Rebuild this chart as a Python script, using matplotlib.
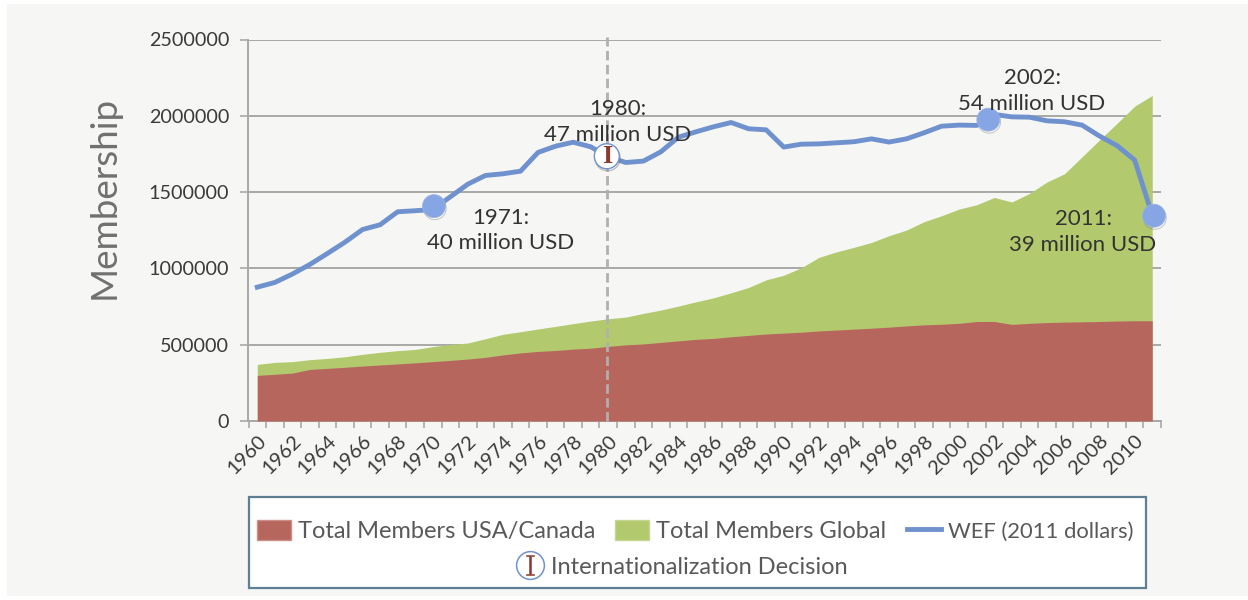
import matplotlib
matplotlib.use("Agg")
import matplotlib.pyplot as plt
from matplotlib.patches import Patch, Rectangle
from matplotlib.lines import Line2D
from matplotlib.legend_handler import HandlerTuple
import matplotlib.patheffects as pe

plt.rcParams['font.family'] = ['Lato', 'DejaVu Sans']
plt.rcParams['mathtext.fontset'] = 'dejavuserif'

years = list(range(1960, 2012))
usa_canada = [299, 306, 314, 338, 345, 352, 360, 367, 374, 381, 389, 397, 406, 417, 433, 446, 456, 462, 471, 477,
              489, 499, 505, 515, 525, 535, 541, 552, 561, 570, 576, 582, 590, 596, 602, 608, 615, 623, 630, 634,
              640, 652, 652, 633, 640, 645, 648, 650, 652, 655, 657, 657]
global_members = [371, 384, 389, 402, 410, 421, 437, 450, 461, 469, 487, 502, 511, 539, 568, 585, 603, 620, 638, 655,
                  670, 681, 705, 727, 753, 781, 807, 840, 875, 925, 955, 1004, 1072, 1108, 1138, 1170, 1214, 1251,
                  1306, 1345, 1389, 1417, 1465, 1435, 1491, 1566, 1620, 1731, 1842, 1951, 2063, 2133]
wef = [877, 908, 963, 1026, 1098, 1172, 1255, 1286, 1371, 1378, 1386, 1469, 1552, 1609, 1620, 1637, 1760, 1801, 1827,
       1797, 1731, 1694, 1703, 1764, 1860, 1895, 1928, 1956, 1915, 1908, 1795, 1814, 1816, 1823, 1830, 1849, 1828,
       1849, 1889, 1932, 1939, 1937, 2009, 1993, 1991, 1967, 1961, 1939, 1867, 1804, 1710, 1350]
y_ticks = [0, 500000, 1000000, 1500000, 2000000, 2500000]
x_tick_labels = [str(y) for y in range(1960, 2012, 2)]

callout_x = [10.07, 41.66, 51.1]
callout_y = [1408000, 1975000, 1345000]
decision_x = 19.92
decision_y = 1735000
notes = ["1971:\n40 million USD", "1980:\n47 million USD", "2002:\n54 million USD", "2011:\n39 million USD"]
note_x = [13.89, 20.55, 44.15, 47.06]
note_y = [1248000, 1959000, 2162000, 1238000]

RED, GREEN, BLUE = "#b7665e", "#b2c96d", "#6f92cf"
GRID, TXT = "#a8a8a6", "#333333"
BG = "#f6f6f5"
W, H = 1248, 600

fig = plt.figure(figsize=(W / 100, H / 100), dpi=100, facecolor="white")
fig.add_artist(Rectangle((7 / W, 1 - 596 / H), (W - 7) / W, 592 / H, transform=fig.transFigure,
                         facecolor=BG, edgecolor="none", zorder=-5))
ax = fig.add_axes([248.5 / W, 1 - 421 / H, (1161 - 248.5) / W, (421 - 39.5) / H])
ax.patch.set_alpha(0)

xs = list(range(len(years)))
usa = [v * 1000 for v in usa_canada]
glob = [v * 1000 for v in global_members]
w = [v * 1000 for v in wef]
ax.fill_between(xs, 0, glob, color=GREEN, lw=0, zorder=2)
ax.fill_between(xs, 0, usa, color=RED, lw=0, zorder=3)
ax.plot(xs, w, color=BLUE, lw=3.5, solid_joinstyle="round", zorder=5)
ax.plot([decision_x, decision_x], [0, 2515000], color="#b0b0ae", lw=2.0, ls=(0, (3.4, 1.6)), zorder=4, clip_on=False)

shadow = [pe.SimpleLineShadow(offset=(0.6, -1.5), shadow_color="#777777", alpha=0.45), pe.Normal()]
ax.plot(callout_x, callout_y, ls="none", marker="o", ms=16.5, mfc="#86a5e5", mec="#9ab2e2", mew=0.6,
        path_effects=shadow, zorder=7, clip_on=False)
ax.plot([decision_x], [decision_y], ls="none", marker="o", ms=18, mfc="white", mec="#6f92cf", mew=1.0,
        path_effects=shadow, zorder=7)
ax.text(decision_x, decision_y, "I", family="Liberation Serif", weight="bold", fontsize=19, color="#8a3a30",
        ha="center", va="center", zorder=8)
for t, x, y in zip(notes, note_x, note_y):
    ax.text(x, y, t, ha="center", va="center", fontsize=16, color=TXT, linespacing=1.34, zorder=9)

ax.set_xlim(-0.5, 51.5)
ax.set_ylim(0, 2500000)
ax.set_yticks(y_ticks)
ax.set_yticklabels([str(v) for v in y_ticks], fontsize=14.2, color="#3a3a3a")
ax.set_xticks(xs[::2])
ax.set_xticklabels(x_tick_labels, rotation=45, ha="right", rotation_mode="anchor", fontsize=14.5, color="#3a3a3a")
ax.set_xticks([i - 0.5 for i in range(len(xs) + 1)], minor=True)
ax.tick_params(axis="x", which="major", length=0, pad=8)
ax.tick_params(axis="x", which="minor", length=5, color=GRID, width=1.2)
ax.tick_params(axis="y", length=6, color=GRID, width=1.2, pad=8)
ax.grid(axis="y", color=GRID, lw=1.4, zorder=1)
ax.set_axisbelow(True)
for s in ("top", "right"):
    ax.spines[s].set_visible(False)
for s in ("left", "bottom"):
    ax.spines[s].set_color(GRID)
    ax.spines[s].set_linewidth(1.4)
fig.text(104 / W, 1 - 197 / H, "Membership", rotation=90, ha="center", va="center", fontsize=26.5,
         color="#707070")

fig.add_artist(Rectangle((249 / W, 1 - 588 / H), 897 / W, 91 / H, transform=fig.transFigure,
                         facecolor="white", edgecolor="#5f7f92", lw=1.6, zorder=3))
row1 = [Patch(facecolor=RED, edgecolor="#c98f88"), Patch(facecolor=GREEN, edgecolor="#c5d695"),
        Line2D([], [], color=BLUE, lw=3.5)]
row1_labels = ["Total Members USA/Canada", "Total Members Global", "WEF (2011 dollars)"]
circle = Line2D([], [], ls="none", marker="o", ms=20, mfc="white", mec="#6f92cf", mew=1.1)
letter = Line2D([], [], ls="none", marker=r"$\mathrm{I}$", ms=14.5, mfc="#8a3a30", mec="#8a3a30", mew=0.4)
common = dict(frameon=False, fontsize=17, labelcolor="#595959", handleheight=0.9,
              borderpad=0, loc="center")
leg1 = fig.legend(row1, row1_labels, ncol=3, handlelength=1.44, handletextpad=0.3, columnspacing=0.85,
                  bbox_to_anchor=(695 / W, 1 - 531 / H), **common)
leg1.get_texts()[2].set_fontsize(15.8)
leg2 = fig.legend([(circle, letter)], ["Internationalization Decision"], handlelength=1.2, handletextpad=0.3,
                  handler_map={tuple: HandlerTuple(ndivide=1)}, bbox_to_anchor=(682 / W, 1 - 567 / H), **common)
leg1.set_zorder(5)
leg2.set_zorder(5)
fig.savefig("out.png", dpi=100, facecolor=fig.get_facecolor())
